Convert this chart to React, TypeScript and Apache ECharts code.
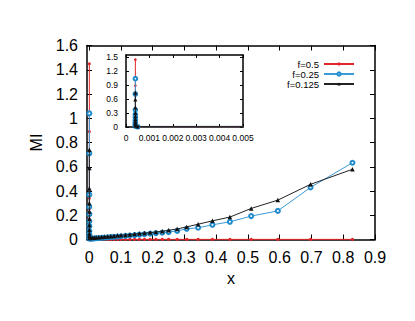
import React, { useEffect, useRef } from "react";
import * as echarts from "echarts";

// x position of the stacked spike near zero
const spikeX = 0.0004;
const redSpike = [1.45, 0.89, 0.34, 0.25, 0.17, 0.11, 0.07, 0.04, 0.02];
const blueSpike = [1.04, 0.71, 0.37, 0.27, 0.21, 0.15, 0.11, 0.07, 0.04, 0.02];
const blackSpike = [0.74, 0.59, 0.42, 0.3, 0.23, 0.17, 0.12, 0.08, 0.05, 0.03];

const xTail = [
  0.0005, 0.006, 0.011, 0.016, 0.022, 0.03, 0.039, 0.048, 0.058, 0.068, 0.078, 0.089,
  0.1, 0.114, 0.128, 0.143, 0.158, 0.174, 0.192, 0.21, 0.23, 0.25, 0.277, 0.307,
  0.343, 0.388, 0.443, 0.51, 0.594, 0.697, 0.829,
];
const redTail = [
  0.006, 0.004, 0.003, 0.003, 0.002, 0.002, 0.002, 0.002, 0.001, 0.001, 0.001, 0.001,
  0.001, 0.001, 0.001, 0.001, 0.001, 0.001, 0.001, 0.001, 0.001, 0.001, 0.001, 0.001,
  0.001, 0.001, 0.001, 0.001, 0.001, 0.001, 0.001,
];
const blueTail = [
  0.006, 0.007, 0.008, 0.009, 0.011, 0.012, 0.014, 0.016, 0.018, 0.02, 0.022, 0.024,
  0.027, 0.03, 0.033, 0.036, 0.04, 0.044, 0.048, 0.052, 0.056, 0.061, 0.071, 0.088,
  0.097, 0.121, 0.146, 0.193, 0.236, 0.43, 0.633,
];
const blackTail = [
  0.012, 0.013, 0.014, 0.015, 0.017, 0.019, 0.021, 0.023, 0.025, 0.027, 0.029, 0.032,
  0.035, 0.038, 0.041, 0.045, 0.049, 0.053, 0.057, 0.062, 0.068, 0.076, 0.087, 0.104,
  0.126, 0.154, 0.185, 0.256, 0.325, 0.455, 0.579,
];

const seriesNames = ["f=0.5", "f=0.25", "f=0.125"];
const mainXTicks = [0, 0.1, 0.2, 0.3, 0.4, 0.5, 0.6, 0.7, 0.8, 0.9];
const mainYTicks = [0, 0.2, 0.4, 0.6, 0.8, 1, 1.2, 1.4, 1.6];
const insetXTicks = [0, 0.001, 0.002, 0.003, 0.004, 0.005];
const insetYTicks = [0, 0.3, 0.6, 0.9, 1.2, 1.5];

const FONT = "Liberation Sans, Arial, Helvetica, sans-serif";

function build(spike: number[], tail: number[]) {
  const pts: number[][] = spike.map((v) => [spikeX, v]);
  tail.forEach((v, i) => pts.push([xTail[i], v]));
  return pts;
}

export default function App() {
  const ref = useRef<HTMLDivElement>(null);
  useEffect(() => {
    if (!ref.current) return;
    const chart = echarts.init(ref.current, undefined, { renderer: "svg" });
    const red = build(redSpike, redTail);
    const blue = build(blueSpike, blueTail);
    const black = build(blackSpike, blackTail);
    const axisLine = { show: true, onZero: false, lineStyle: { color: "#000", width: 1.5 } };
    const tick = (vals: number[], len: number) => ({
      show: true,
      inside: true,
      length: len,
      customValues: vals,
      lineStyle: { color: "#000", width: 1 },
    });
    const styles = [
      { color: "#e3262a", symbol: "circle", size: 3, line: "#e3262a" },
      { color: "#1f8bcc", symbol: "emptyCircle", size: 4, line: "#3b9ad6" },
      { color: "#111", symbol: "triangle", size: 4.5, line: "#222" },
    ];
    const datasets = [red, blue, black];
    const mkSeries = (idx: number, xi: number, yi: number, sizeScale: number) => ({
      type: "line",
      name: seriesNames[idx],
      xAxisIndex: xi,
      yAxisIndex: yi,
      data: datasets[idx],
      symbol: styles[idx].symbol,
      symbolSize: styles[idx].size * sizeScale,
      showAllSymbol: true,
      clip: true,
      itemStyle: { color: styles[idx].color, borderWidth: 1 },
      lineStyle: { color: styles[idx].line, width: 1 },
      z: 3 + idx,
    });

    chart.setOption({
      animation: false,
      backgroundColor: "#fff",
      textStyle: { fontFamily: FONT },
      grid: [
        { left: 87, right: 40, top: 45.5, bottom: 81.5 },
        { left: 126, right: 172, top: 55, bottom: 194 },
      ],
      legend: {
        data: seriesNames,
        orient: "vertical",
        align: "right",
        right: 55,
        top: 54,
        itemWidth: 30,
        itemHeight: 4,
        itemGap: 0,
        textStyle: { fontSize: 9.5, fontFamily: FONT, color: "#000", lineHeight: 10 },
      },
      xAxis: [
        {
          type: "value",
          gridIndex: 0,
          min: -0.007,
          max: 0.9,
          name: "x",
          nameLocation: "middle",
          nameGap: 31,
          nameTextStyle: { fontSize: 16, fontFamily: FONT, color: "#000" },
          axisLine,
          axisTick: tick(mainXTicks, 5),
          axisLabel: {
            customValues: mainXTicks,
            fontSize: 16,
            color: "#000",
            margin: 10,
            fontFamily: FONT,
          },
          splitLine: { show: false },
        },
        {
          type: "value",
          gridIndex: 0,
          position: "top",
          min: -0.007,
          max: 0.9,
          axisLine,
          axisTick: tick(mainXTicks, 5),
          axisLabel: { show: false },
          splitLine: { show: false },
        },
        {
          type: "value",
          gridIndex: 1,
          min: 0,
          max: 0.005,
          axisLine,
          axisTick: tick(insetXTicks, 3),
          axisLabel: {
            customValues: insetXTicks,
            fontSize: 8.5,
            color: "#000",
            margin: 6,
            fontFamily: FONT,
          },
          splitLine: { show: false },
        },
        {
          type: "value",
          gridIndex: 1,
          position: "top",
          min: 0,
          max: 0.005,
          axisLine,
          axisTick: tick(insetXTicks, 3),
          axisLabel: { show: false },
          splitLine: { show: false },
        },
      ],
      yAxis: [
        {
          type: "value",
          gridIndex: 0,
          min: 0,
          max: 1.6,
          name: "MI",
          nameLocation: "middle",
          nameGap: 34,
          nameTextStyle: { fontSize: 16, fontFamily: FONT, color: "#000" },
          axisLine,
          axisTick: tick(mainYTicks, 5),
          axisLabel: {
            customValues: mainYTicks,
            fontSize: 16,
            color: "#000",
            margin: 9,
            fontFamily: FONT,
          },
          splitLine: { show: false },
        },
        {
          type: "value",
          gridIndex: 0,
          position: "right",
          min: 0,
          max: 1.6,
          axisLine,
          axisTick: tick(mainYTicks, 5),
          axisLabel: { show: false },
          splitLine: { show: false },
        },
        {
          type: "value",
          gridIndex: 1,
          min: 0,
          max: 1.55,
          axisLine,
          axisTick: tick(insetYTicks, 3),
          axisLabel: {
            customValues: insetYTicks,
            fontSize: 8.5,
            color: "#000",
            margin: 8,
            fontFamily: FONT,
          },
          splitLine: { show: false },
        },
        {
          type: "value",
          gridIndex: 1,
          position: "right",
          min: 0,
          max: 1.55,
          axisLine,
          axisTick: tick(insetYTicks, 3),
          axisLabel: { show: false },
          splitLine: { show: false },
        },
      ],
      series: [
        mkSeries(0, 0, 0, 1),
        mkSeries(1, 0, 0, 1),
        mkSeries(2, 0, 0, 1),
        mkSeries(0, 2, 2, 0.9),
        mkSeries(1, 2, 2, 0.9),
        mkSeries(2, 2, 2, 0.9),
      ],
    });
    return () => chart.dispose();
  }, []);
  return (
    <div
      ref={ref}
      style={{ position: "fixed", left: 0, top: 0, width: 415, height: 321 }}
    />
  );
}
